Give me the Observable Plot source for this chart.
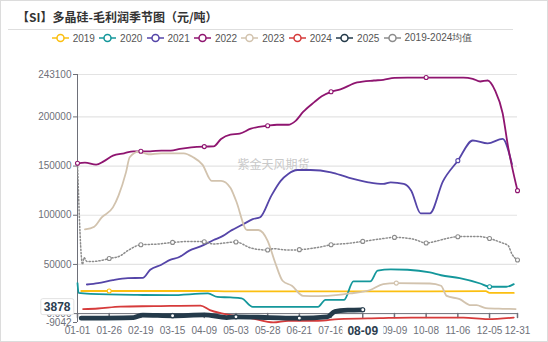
<!DOCTYPE html>
<html><head><meta charset="utf-8">
<script src="https://cdn.jsdelivr.net/npm/d3@7"></script>
<script src="https://cdn.jsdelivr.net/npm/@observablehq/plot@0.6"></script>
<style>
body{margin:0;background:#fff;}
#wrap{position:relative;width:548px;height:342px;overflow:hidden;background:#fff;}
#frame{position:absolute;left:0;top:0;width:546px;height:340px;border:1px solid #dcdcdc;pointer-events:none;}
#title{position:absolute;left:17px;top:10px;font-family:"Noto Sans CJK SC",sans-serif;font-size:12px;line-height:14px;font-weight:bold;color:#333;white-space:nowrap;}
#sep{position:absolute;left:8px;top:29px;width:505px;height:0;border-top:1.5px solid #dedede;}
.lg{position:absolute;top:31px;height:14px;display:flex;align-items:center;font-family:"Liberation Sans",Arial,sans-serif;font-size:10px;color:#555;white-space:nowrap;}
.lg svg{margin-right:4px;}
#chart{position:absolute;left:0;top:45px;}
</style></head>
<body><div id="wrap"><div id="title"></div><div id="sep"></div><div id="legendBox"></div><div id="chart"></div><div id="frame"></div></div>
<script>
const titleText = "【SI】多晶硅-毛利润季节图（元/吨）";
const watermark = "紫金天风期货";
const seriesNames = ["2019","2020","2021","2022","2023","2024","2025","2019-2024均值"];
const seriesColors = ["#fbbf11","#14979b","#5545a8","#8f1570","#d2c3ae","#d63b3b","#243a4a","#8c8c8c"];
const tickIdx = [0,17,34,51,68,85,102,119,136,153,170,187,204,221,236];
const tickLabels = ["01-01","01-26","02-19","03-15","04-09","05-03","05-28","06-21","07-16","08-09","09-09","10-08","11-06","12-05","12-31"];
const pointerLabel = "08-09";
const yTicks = [-9042,0,50000,100000,150000,200000,243100];
const gridVals = [50000,100000,150000,200000,243100];
const lastValue = 3878;

const s2019 = [[2,23000],[17,23000],[67,23000],[82,22600],[160,22600],[219,22800],[221,21000],[234,21000]];
const s2020 = [[0,31000],[0.6,21000],[7,20000],[32,19000],[50,18800],[70,20500],[75,17000],[82,16400],[88,15400],[94,6900],[129,6900],[133,14000],[143,14000],[148,32700],[157,32700],[161,43600],[168,45000],[177,44600],[189,41800],[195,39000],[205,36000],[216,30600],[221,27300],[230,27300],[234,30000]];
const s2021 = [[5,29600],[11,31000],[19,34000],[27,36000],[35,36400],[39,44600],[45,49700],[50,54800],[54,57000],[60,64000],[66,68300],[73,74800],[78,79000],[82,84000],[84,86000],[89,91000],[94,96000],[98,98000],[104,120000],[109,135000],[113,142000],[118,146000],[125,146000],[136,143600],[145,138500],[156,133500],[164,131800],[168,133500],[175,131800],[179,125000],[184,102000],[189,102000],[196,134500],[204,155500],[212,176000],[220,173000],[228,177600],[233,152000]];
const s2022 = [[0,152800],[4,153500],[10,151500],[14,154800],[19,160600],[25,163000],[30,165000],[34,165000],[39,165000],[45,165700],[50,165700],[55,167500],[61,169000],[68,169800],[73,170000],[77,177600],[82,182000],[87,183000],[93,188000],[102,191000],[107,192000],[113,192000],[117,196000],[121,205000],[127,215000],[131,221000],[136,225500],[141,228000],[150,235000],[159,237000],[164,237700],[170,239700],[177,240000],[187,240000],[207,240000],[212,238700],[216,236000],[220,237000],[224,226800],[228,204000],[231,169000],[233,150000],[236,125000]];
const s2023 = [[4,85600],[9,88400],[13,97800],[19,108000],[22,120000],[26,143600],[28,159000],[33,164700],[38,162000],[45,163000],[57,163000],[62,159000],[67,151500],[72,135000],[77,135000],[82,128000],[85,115000],[91,85000],[97,85000],[102,74000],[106,52000],[110,33400],[115,28300],[121,18000],[129,17800],[140,19000],[146,20500],[157,24000],[164,30000],[171,31000],[189,30600],[195,28300],[198,18000],[205,14700],[211,8600],[214,8600],[219,5600],[228,4900],[235,4600]];
const s2024 = [[3,4600],[11,5200],[23,7200],[41,7600],[66,8200],[71,3500],[78,0],[94,-5000],[105,-9000],[113,-7300],[129,-7300],[140,-5600],[162,-4600],[179,-4000],[207,-4000],[220,-5600],[234,-4000]];
const s2025 = [[2,-4600],[30,-4000],[35,-1500],[51,-2200],[68,-1200],[80,-4000],[85,-3300],[103,-4000],[119,-4600],[134,-3300],[138,2100],[145,3500],[153,3878]];
const sMean = [[0,152800],[2.7,50000],[3.5,57000],[5,53000],[8,53000],[12,53800],[17,56000],[23,58800],[27,64000],[34,70000],[43,70700],[51,72400],[61,73400],[68,73000],[73,70700],[77,71400],[85,72800],[93,66700],[102,64600],[105,66000],[113,64600],[119,65000],[129,67300],[136,70000],[145,71400],[153,73400],[162,75800],[170,77500],[180,75800],[187,71800],[193,74000],[198,76400],[204,78200],[215,78500],[221,76400],[227,72400],[231,69000],[233,60600],[236,54500]];

const markers = {
  "2019":[17], "2020":[221], "2021":[204], "2022":[0,34,68,102,136,187,236],
  "2023":[171], "2024":[], "2025":[51,85,119,153],
  "2019-2024均值":[17,34,51,68,85,102,119,136,153,170,187,204,221,236]
};
const allSeries = [s2019,s2020,s2021,s2022,s2023,s2024,s2025,sMean];

document.getElementById("title").textContent = titleText;
const lb = document.getElementById("legendBox");
seriesNames.forEach((n,i)=>{
  const d = document.createElement("div");
  d.className = "lg";
  d.style.left = (51.7 + i*47.4) + "px";
  const c = seriesColors[i];
  d.innerHTML = `<svg width="17" height="10"><line x1="0" y1="5" x2="17" y2="5" stroke="${c}" stroke-width="1.5"/><circle cx="8.5" cy="5" r="3.5" fill="#fff" stroke="${c}" stroke-width="1.5"/></svg><span>${n}</span>`;
  lb.appendChild(d);
});

const spike = {draw(ctx, l){ ctx.moveTo(0,0); ctx.lineTo(0,-l); }};
const lineMarks = [];
const dotMarks = [];
allSeries.forEach((s,i)=>{
  const name = seriesNames[i], c = seriesColors[i];
  const isMean = i === 7, is25 = i === 6;
  lineMarks.push(Plot.line(s, {x: d=>d[0], y: d=>d[1], stroke: c,
    strokeWidth: is25 ? 4.8 : (isMean ? 1.5 : 1.8),
    strokeDasharray: isMean ? "1.3,2" : null,
    curve: "monotone-x"}));
  const mk = s.filter(d => markers[name].includes(d[0]));
  dotMarks.push(Plot.dot(mk, {x: d=>d[0], y: d=>d[1], r: 2, fill: "#fff", stroke: c, strokeWidth: 1.1}));
});

const svg = Plot.plot({
  width: 548, height: 297,
  marginLeft: 77, marginRight: 31, marginTop: 29, marginBottom: 20,
  style: {fontFamily: "'Liberation Sans', Arial, sans-serif", fontSize: "10px", color: "#6e7079", background: "transparent", overflow: "visible"},
  x: {domain: [0, 236], axis: null},
  y: {domain: [-9042, 243100], axis: null},
  marks: [
    Plot.gridY(gridVals, {stroke: "#e3e3e3", strokeOpacity: 1, strokeWidth: 1.2}),
    Plot.text([watermark], {frameAnchor: "middle", dx: -24, dy: -33, fill: "#c9c9c9", fontSize: 12, fontFamily: "Noto Sans CJK SC"}),
    Plot.ruleX([0], {stroke: "#6e7079"}),
    Plot.axisY({ticks: yTicks, tickFormat: d => d === 0 ? "0.000" : String(d), tickSize: 4, tickPadding: 2, anchor: "left", stroke: "#6e7079", fill: "#6e7079"}),
    Plot.ruleY([0], {stroke: "#6e7079"}),
    Plot.vector(tickIdx, {x: d=>d, y: 0, length: 4, rotate: 180, anchor: "start", stroke: "#6e7079", shape: spike}),
    Plot.axisX({ticks: tickIdx, tickFormat: d => tickLabels[tickIdx.indexOf(d)], tickSize: 0, tickPadding: 4, anchor: "bottom", fill: "#6e7079"}),
    ...lineMarks,
    ...dotMarks,
    Plot.text([lastValue], {x: 0, y: d=>d, text: d=>String(d), dx: -7, dy: -3, textAnchor: "end", fontWeight: "bold", fontSize: 12, fill: "#2c3e50"})
  ]
});
document.getElementById("chart").appendChild(svg);

function boxBehind(t, padX, padY, stroke){
  const bb = t.getBBox();
  const g = t.parentNode;
  const r = document.createElementNS("http://www.w3.org/2000/svg","rect");
  r.setAttribute("x", bb.x - padX); r.setAttribute("y", bb.y - padY);
  r.setAttribute("width", bb.width + 2*padX); r.setAttribute("height", bb.height + 2*padY);
  r.setAttribute("fill", "#fff");
  r.setAttribute("stroke", stroke || "none");
  r.setAttribute("rx", 2);
  if (t.getAttribute("transform")) r.setAttribute("transform", t.getAttribute("transform"));
  g.appendChild(r); g.appendChild(t);
}
d3.select(svg).selectAll("text").each(function(){
  if (this.textContent === pointerLabel && this.parentNode.getAttribute("aria-label") !== null) {
    this.setAttribute("font-weight","bold");
    this.style.fontSize = "12px";
    this.setAttribute("fill","#2c3e50");
    boxBehind(this, 5, 1, null);
  }
  if (this.textContent === String(lastValue)) {
    boxBehind(this, 3, 1, "#e2e2e2");
  }
});
</script></body></html>
